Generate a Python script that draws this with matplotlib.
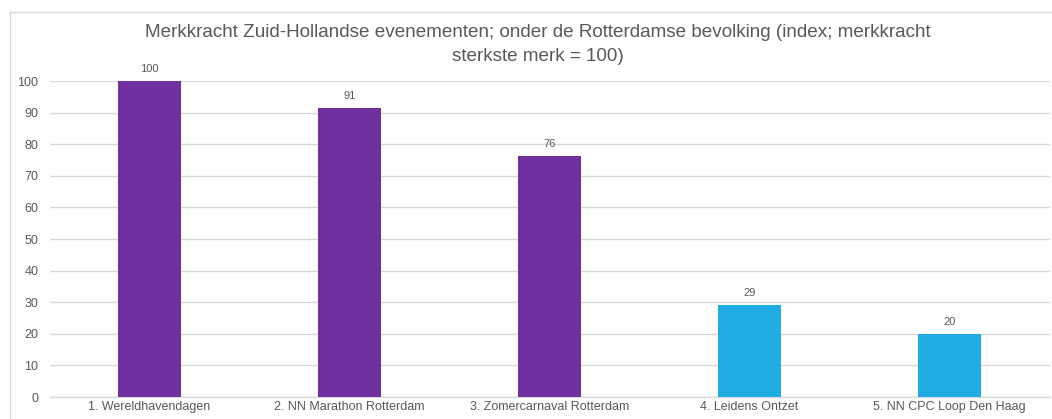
import matplotlib
matplotlib.use("Agg")
from matplotlib import pyplot as plt
from matplotlib.patches import Rectangle

# Data
categories = ["1. Wereldhavendagen", "2. NN Marathon Rotterdam", "3. Zomercarnaval Rotterdam",
              "4. Leidens Ontzet", "5. NN CPC Loop Den Haag"]
values = [100, 91.4, 76.4, 29.1, 20.0]
labels = ["100", "91", "76", "29", "20"]
bar_colors = ["#7030A0", "#7030A0", "#7030A0", "#1FACE2", "#1FACE2"]

TEXT_COLOR = "#595959"
GRID_COLOR = "#D9D9D9"

plt.rcParams["font.family"] = ["Liberation Sans", "DejaVu Sans"]

fig = plt.figure(figsize=(10.52, 4.19), dpi=100)
fig.patch.set_facecolor("white")

# Outer chart frame (runs off the right and bottom edges)
fig.patches.append(Rectangle((10 / 1052, -0.05), 1.1, 1 - 12 / 419 + 0.05,
                             transform=fig.transFigure, fill=False,
                             edgecolor=GRID_COLOR, linewidth=1.0))

ax = fig.add_axes([49.5 / 1052, 1 - 397 / 419, 1000 / 1052, (397 - 81) / 419])

x = range(len(categories))
ax.bar(x, values, width=0.315, color=bar_colors, zorder=3)

for xi, v, lab in zip(x, values, labels):
    ax.text(xi, v + 2.2, lab, ha="center", va="bottom", fontsize=8, color=TEXT_COLOR)

ax.set_xlim(-0.5, len(categories) - 0.5)
ax.set_ylim(0, 100)
ax.set_yticks(range(0, 101, 10))
ax.set_xticks(list(x))
ax.set_xticklabels(categories)
ax.tick_params(axis="both", length=0, colors=TEXT_COLOR, labelsize=9)
ax.tick_params(axis="y", pad=8)
ax.tick_params(axis="x", pad=3)

ax.grid(axis="y", color=GRID_COLOR, linewidth=1.0, zorder=0)
for side in ["top", "right", "left"]:
    ax.spines[side].set_visible(False)
ax.spines["bottom"].set_color(GRID_COLOR)
ax.spines["bottom"].set_linewidth(1.0)

fig.text(538 / 1052, 1 - 44.5 / 419,
         "Merkkracht Zuid-Hollandse evenementen; onder de Rotterdamse bevolking (index; merkkracht\nsterkste merk = 100)",
         ha="center", va="center", fontsize=13.6, color=TEXT_COLOR, linespacing=1.55)

fig.savefig("out.png", dpi=100)
